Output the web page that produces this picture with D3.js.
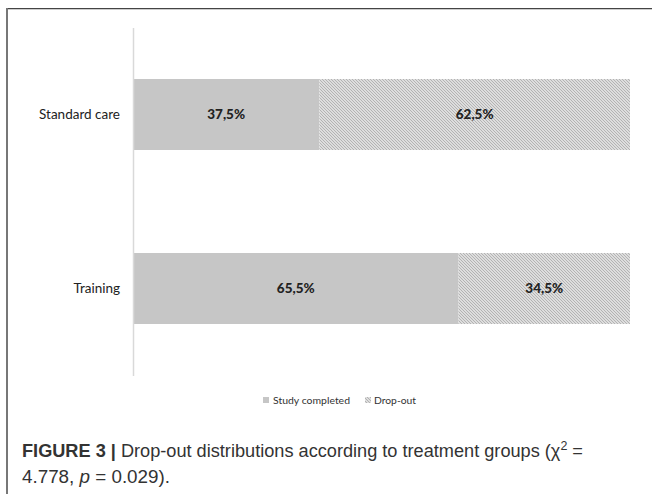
<!DOCTYPE html>
<html><head><meta charset="utf-8">
<script src="https://cdn.jsdelivr.net/npm/d3@7"></script>
<style>body{margin:0;background:#fff}svg{display:block}</style>
</head><body>
<svg id="c" width="652" height="494"></svg>
<script>
const categories = ["Standard care", "Training"];
const studyCompleted = [37.5, 65.5];
const dropOut = [62.5, 34.5];
const seriesNames = ["Study completed", "Drop-out"];

const svg = d3.select("#c");
const defs = svg.append("defs");
const pat = defs.append("pattern").attr("id","hatch").attr("patternUnits","userSpaceOnUse")
  .attr("width",3).attr("height",3);
pat.append("rect").attr("width",3).attr("height",3).attr("fill","#f0f0f0");
pat.append("path").attr("d","M-1,-1 L4,4 M-1,2 L1,4 M2,-1 L4,1").attr("stroke","#b0b0b0").attr("stroke-width",1.1);

// frame
svg.append("line").attr("x1",6).attr("x2",652).attr("y1",8.5).attr("y2",8.5).attr("stroke","#444").attr("stroke-width",1);
svg.append("line").attr("x1",7).attr("x2",652).attr("y1",9.5).attr("y2",9.5).attr("stroke","#ccc").attr("stroke-width",1);
svg.append("line").attr("x1",7).attr("x2",7).attr("y1",8).attr("y2",494).attr("stroke","#777").attr("stroke-width",2);

const x = d3.scaleLinear().domain([0,100]).range([133,630]);
const y = d3.scaleBand().domain(categories).range([27.5,375.5]).paddingInner(0.592).paddingOuter(0.296);

const font = "Lato, 'Open Sans', sans-serif";

// bars
const g = svg.append("g");
categories.forEach((c,i)=>{
  g.append("rect").attr("x",x(0)).attr("y",y(c)).attr("width",x(studyCompleted[i])-x(0)).attr("height",y.bandwidth()).attr("fill","#c6c6c6");
  g.append("rect").attr("x",x(studyCompleted[i])).attr("y",y(c)).attr("width",x(studyCompleted[i]+dropOut[i])-x(studyCompleted[i])).attr("height",y.bandwidth()).attr("fill","url(#hatch)");
  g.append("text").attr("x",(x(0)+x(studyCompleted[i]))/2).attr("y",y(c)+y.bandwidth()/2).attr("dy","0.35em")
   .attr("text-anchor","middle").attr("font-family",font).attr("font-weight","900").attr("font-size",13.5).attr("fill","#222")
   .text(studyCompleted[i].toFixed(1).replace(".",",")+"%");
  g.append("text").attr("x",(x(studyCompleted[i])+x(100))/2).attr("y",y(c)+y.bandwidth()/2).attr("dy","0.35em")
   .attr("text-anchor","middle").attr("font-family",font).attr("font-weight","900").attr("font-size",13.5).attr("fill","#222")
   .text(dropOut[i].toFixed(1).replace(".",",")+"%");
});

// axis
const ax = svg.append("g").attr("transform",`translate(${x(0)},0)`).call(d3.axisLeft(y).tickSize(0).tickPadding(13));
ax.select(".domain").attr("stroke","#d9d9d9").attr("stroke-width",1.5);
ax.selectAll("text").attr("font-family",font).attr("font-size",13.5).attr("fill","#222");

// legend
const lg = svg.append("g");
lg.append("rect").attr("x",263).attr("y",397).attr("width",6).attr("height",6).attr("fill","#c6c6c6");
lg.append("text").attr("x",273).attr("y",403.5).attr("font-family",font).attr("font-size",10.2).attr("fill","#333")
  .attr("textLength",77).attr("lengthAdjust","spacingAndGlyphs").text(seriesNames[0]);
lg.append("rect").attr("x",365).attr("y",397).attr("width",6).attr("height",6).attr("fill","url(#hatch)");
lg.append("text").attr("x",374).attr("y",403.5).attr("font-family",font).attr("font-size",10.2).attr("fill","#333")
  .attr("textLength",42).attr("lengthAdjust","spacingAndGlyphs").text(seriesNames[1]);

// caption
const cf = "'Liberation Sans Narrow','Liberation Sans',Arial,sans-serif";
const t1 = svg.append("text").attr("x",22).attr("y",457).attr("font-family",cf).attr("font-size",17.5).attr("fill","#333")
  .attr("textLength",561).attr("lengthAdjust","spacingAndGlyphs");
t1.append("tspan").attr("font-weight","bold").text("FIGURE 3 | ");
t1.append("tspan").text("Drop-out distributions according to treatment groups (χ");
t1.append("tspan").attr("font-size",12).attr("dy",-7).text("2");
t1.append("tspan").attr("dy",7).text(" =");
const t2 = svg.append("text").attr("x",22).attr("y",483).attr("font-family",cf).attr("font-size",17.5).attr("fill","#333")
  .attr("textLength",148).attr("lengthAdjust","spacingAndGlyphs");
t2.append("tspan").text("4.778, ");
t2.append("tspan").attr("font-style","italic").text("p");
t2.append("tspan").text(" = 0.029).");
</script>
</body></html>
